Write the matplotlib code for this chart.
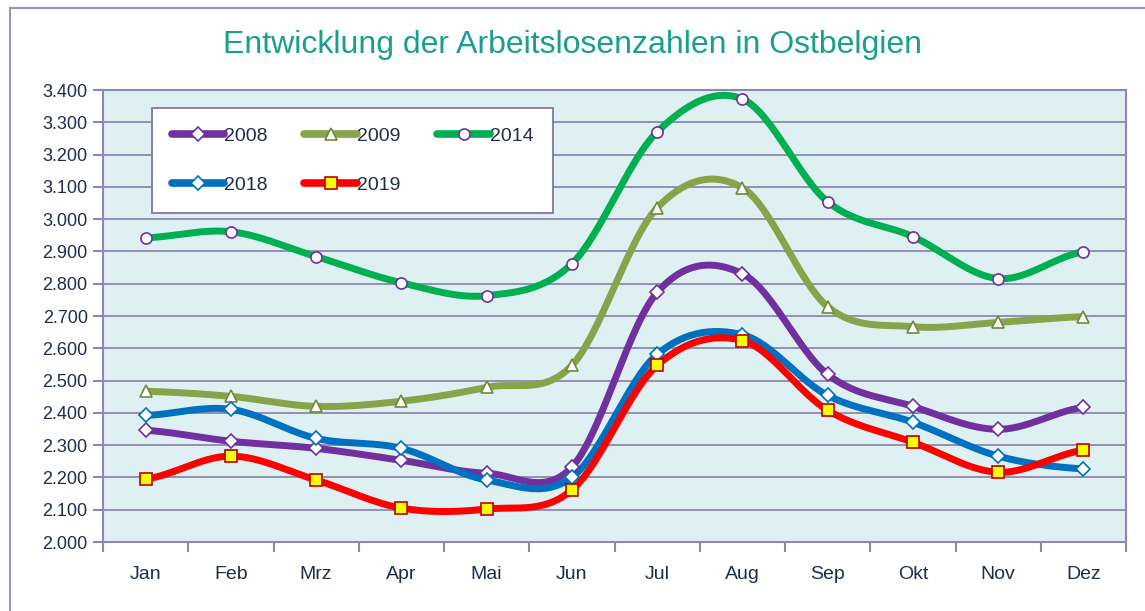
import numpy as np
import matplotlib
matplotlib.use("Agg")
import matplotlib.pyplot as plt
from matplotlib.patches import Rectangle
from matplotlib.ticker import FuncFormatter

plt.rcParams['font.family'] = ['Liberation Sans', 'DejaVu Sans']

months = ["Jan", "Feb", "Mrz", "Apr", "Mai", "Jun", "Jul", "Aug", "Sep", "Okt", "Nov", "Dez"]

v2008 = [2346, 2312, 2290, 2253, 2213, 2232, 2773, 2831, 2519, 2420, 2349, 2417]
v2009 = [2467, 2451, 2420, 2436, 2479, 2547, 3035, 3097, 2729, 2667, 2680, 2698]
v2014 = [2942, 2961, 2884, 2803, 2763, 2862, 3270, 3372, 3054, 2946, 2816, 2899]
v2018 = [2392, 2411, 2321, 2290, 2192, 2200, 2581, 2642, 2454, 2371, 2266, 2226]
v2019 = [2195, 2266, 2192, 2105, 2102, 2161, 2547, 2624, 2408, 2309, 2216, 2284]

series = [
    ("2008", v2008, "#7030A0", "D", "white", "#7030A0", 7),
    ("2009", v2009, "#86A44A", "^", "white", "#6E8A3A", 8),
    ("2014", v2014, "#00B050", "o", "white", "#7030A0", 8),
    ("2018", v2018, "#0070C0", "D", "white", "#0070C0", 7),
    ("2019", v2019, "#FF0000", "s", "#FFFF00", "#C00000", 9),
]


def smooth(y, n=30):
    # Excel-like smoothed line (Catmull-Rom through the points)
    y = np.asarray(y, dtype=float)
    x = np.arange(len(y), dtype=float)
    xs, ys = [], []
    for i in range(len(y) - 1):
        p0 = y[i - 1] if i > 0 else y[i]
        p3 = y[i + 2] if i + 2 < len(y) else y[i + 1]
        p1, p2 = y[i], y[i + 1]
        t = np.linspace(0, 1, n, endpoint=False)
        c1 = p1 + (p2 - p0) / 6
        c2 = p2 - (p3 - p1) / 6
        b = (1 - t) ** 3 * p1 + 3 * (1 - t) ** 2 * t * c1 + 3 * (1 - t) * t ** 2 * c2 + t ** 3 * p2
        xs.append(x[i] + t)
        ys.append(b)
    xs.append([x[-1]])
    ys.append([y[-1]])
    return np.concatenate(xs), np.concatenate(ys)


fig = plt.figure(figsize=(11.45, 6.11), dpi=100)
fig.patch.set_facecolor("white")
fig.patches.append(Rectangle((10 / 1145, -0.05), 1.1, 1 - 8 / 611 + 0.05, transform=fig.transFigure,
                             fill=False, edgecolor="#9A92BC", lw=1.5))

ax = fig.add_axes([103 / 1145, 1 - 542 / 611, 1023 / 1145, 452 / 611])
ax.set_facecolor("#DFF0F3")

handles = {}
for label, vals, col, mk, mfc, mec, ms in series:
    xs, ys = smooth(vals)
    ax.plot(xs, ys, color=col, lw=5, solid_capstyle="round", zorder=3)
    ax.plot(np.arange(len(vals)), vals, ls="none", marker=mk, ms=ms, mfc=mfc, mec=mec, mew=1.2, zorder=4)
    handles[label], = ax.plot([], [], color=col, lw=5.5, marker=mk, ms=ms, mfc=mfc, mec=mec, mew=1.2,
                              solid_capstyle="round")

ax.set_xlim(-0.5, 11.5)
ax.set_ylim(2000, 3400)
ax.set_yticks(np.arange(2000, 3401, 100))
ax.yaxis.set_major_formatter(FuncFormatter(lambda v, p: f"{v/1000:.3f}"))
ax.set_xticks(np.arange(len(months)))
ax.set_xticklabels(months)
ax.set_xticks(np.arange(-0.5, 12, 1), minor=True)
ax.tick_params(axis="x", which="major", length=0, pad=17, labelsize=14, labelcolor="#1F2D4D")
ax.tick_params(axis="x", which="minor", length=7, color="#8C86B0", width=1.5)
ax.tick_params(axis="y", length=7, color="#8C86B0", width=1.5, labelsize=13, labelcolor="#1F2D4D", pad=4)
ax.grid(axis="y", color="#8C86B0", lw=1.3, zorder=1)
ax.set_axisbelow(True)
for s in ax.spines.values():
    s.set_color("#8C86B0")
    s.set_linewidth(1.5)

fig.text(0.5, 1 - 45 / 611, "Entwicklung der Arbeitslosenzahlen in Ostbelgien", ha="center", va="center",
         fontsize=23, color="#1A9E8F")

order = ["2008", "2018", "2009", "2019", "2014"]
leg = ax.legend([handles[k] for k in order], order, loc="upper left", bbox_to_anchor=(0.048, 0.960),
                borderaxespad=0, ncol=3, frameon=True, fancybox=False, fontsize=14, handlelength=2.7,
                handletextpad=0.0, columnspacing=1.9, labelspacing=1.6, borderpad=1.0,
                edgecolor="#7E77A8", facecolor="white", framealpha=1)
leg.get_frame().set_linewidth(1.3)
for t in leg.get_texts():
    t.set_color("#1F2D4D")

fig.savefig("out.png", dpi=100)
